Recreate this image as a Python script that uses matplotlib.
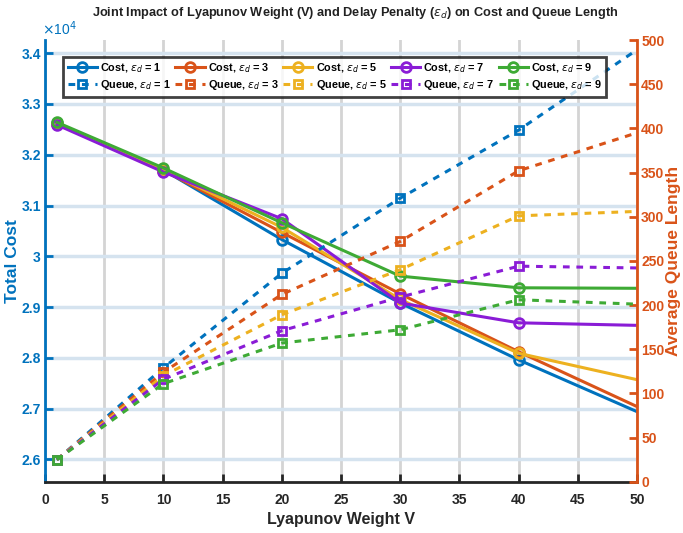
import matplotlib
matplotlib.use("Agg")
import matplotlib.pyplot as plt
from matplotlib.ticker import FuncFormatter
import numpy as np

plt.rcParams['font.family'] = ['Liberation Sans Narrow', 'Liberation Sans', 'DejaVu Sans']
plt.rcParams['mathtext.fontset'] = 'dejavusans'

# Lyapunov weight V
V = [1, 10, 20, 30, 40, 50]
eps_d = [1, 3, 5, 7, 9]

# total cost per eps_d
cost_e1 = [32620, 31700, 30330, 29080, 27960, 26940]
cost_e3 = [32615, 31690, 30470, 29260, 28120, 27040]
cost_e5 = [32615, 31700, 30570, 29150, 28090, 27570]
cost_e7 = [32590, 31660, 30740, 29080, 28690, 28640]
cost_e9 = [32640, 31740, 30660, 29610, 29380, 29370]

# average queue length per eps_d
queue_e1 = [25, 129, 236, 321, 398, 489]
queue_e3 = [25, 124, 212, 272, 352, 395]
queue_e5 = [25, 120, 189, 240, 301, 306]
queue_e7 = [25, 116, 171, 209, 244, 242]
queue_e9 = [25, 111, 157, 172, 206, 201]

costs = [cost_e1, cost_e3, cost_e5, cost_e7, cost_e9]
queues = [queue_e1, queue_e3, queue_e5, queue_e7, queue_e9]
colors = ['#0072BD', '#D95319', '#EDB120', '#8A1CD6', '#3EAA35']

blue = '#0072BD'
orange = '#D95319'

fig = plt.figure(figsize=(6.83, 5.33), dpi=100)
ax1 = fig.add_axes([0.0659, 0.0962, 0.8668, 0.8287])
ax2 = ax1.twinx()

handles = []
labels = []
for e, c, q, col in zip(eps_d, costs, queues, colors):
    h1, = ax1.plot(V, c, '-o', color=col, lw=2.2, ms=7, mfc='none', mew=2,
                   markevery=[0, 1, 2, 3, 4])
    h2, = ax2.plot(V, q, '--s', color=col, lw=2.2, ms=6, mfc='none', mew=2,
                   markevery=[0, 1, 2, 3, 4], dashes=(2.2, 2.2))
    handles += [h1, h2]
    labels += [r'Cost, $\epsilon_d$ = %d' % e, r'Queue, $\epsilon_d$ = %d' % e]

ax1.set_xlim(0, 50)
ax1.set_ylim(25560, 34260)
ax2.set_ylim(0, 500)
ax1.set_xticks(np.arange(0, 51, 5))
ax1.set_yticks(np.arange(26000, 34001, 1000))
ax2.set_yticks(np.arange(0, 501, 50))
ax1.yaxis.set_major_formatter(FuncFormatter(lambda v, p: ('%g' % round(v / 1e4, 2))))

# grids
ax1.grid(axis='y', color='#d5e3ef', lw=2.5)
ax1.grid(axis='x', color='#d4d4d4', lw=2)
ax1.set_axisbelow(True)

for ax in (ax1, ax2):
    ax.spines['top'].set_visible(False)
ax1.spines['left'].set_color(blue)
ax1.spines['left'].set_linewidth(2)
ax1.spines['bottom'].set_color('#262626')
ax1.spines['bottom'].set_linewidth(2)
ax1.spines['right'].set_visible(False)
ax2.spines['left'].set_visible(False)
ax2.spines['bottom'].set_visible(False)
ax2.spines['right'].set_color(orange)
ax2.spines['right'].set_linewidth(2)

ax1.tick_params(axis='x', direction='in', length=6, width=2, colors='#262626',
                labelsize=10, pad=8)
ax1.tick_params(axis='y', direction='in', length=6, width=2, colors=blue,
                labelsize=10, pad=3)
ax2.tick_params(axis='y', direction='in', length=6, width=2, colors=orange,
                labelsize=10, pad=3)
for lab in ax1.get_xticklabels() + ax1.get_yticklabels() + ax2.get_yticklabels():
    lab.set_fontweight('bold')

ax1.set_xlabel('Lyapunov Weight V', fontsize=11.5, fontweight='bold', color='#262626')
ax1.set_ylabel('Total Cost', fontsize=12.5, fontweight='bold', color=blue,
               family=['Liberation Sans', 'DejaVu Sans'], labelpad=1)
ax2.set_ylabel('Average Queue Length', fontsize=12.5, fontweight='bold', color=orange,
               family=['Liberation Sans', 'DejaVu Sans'], labelpad=1)

ax1.text(-0.005, 1.005, r'$\times$10$^4$', transform=ax1.transAxes, color=blue,
         fontsize=10, ha='left', va='bottom')

fig.suptitle(r'Joint Impact of Lyapunov Weight (V) and Delay Penalty ($\epsilon_d$) on Cost and Queue Length',
             x=0.52, y=0.99, fontsize=9.2, fontweight='bold', color='#212121')

leg = ax2.legend(handles, labels, ncol=5, loc='upper left',
                 bbox_to_anchor=(0.031, 0.9615), borderaxespad=0, fontsize=7.8,
                 frameon=True, fancybox=False, handlelength=2.7,
                 columnspacing=0.4, handletextpad=0.3, borderpad=0.4,
                 labelspacing=0.3)
leg.get_frame().set_edgecolor('#111111')
leg.get_frame().set_linewidth(2)
for t in leg.get_texts():
    t.set_fontweight('bold')

fig.savefig('out.png', dpi=100)
plt.close()
